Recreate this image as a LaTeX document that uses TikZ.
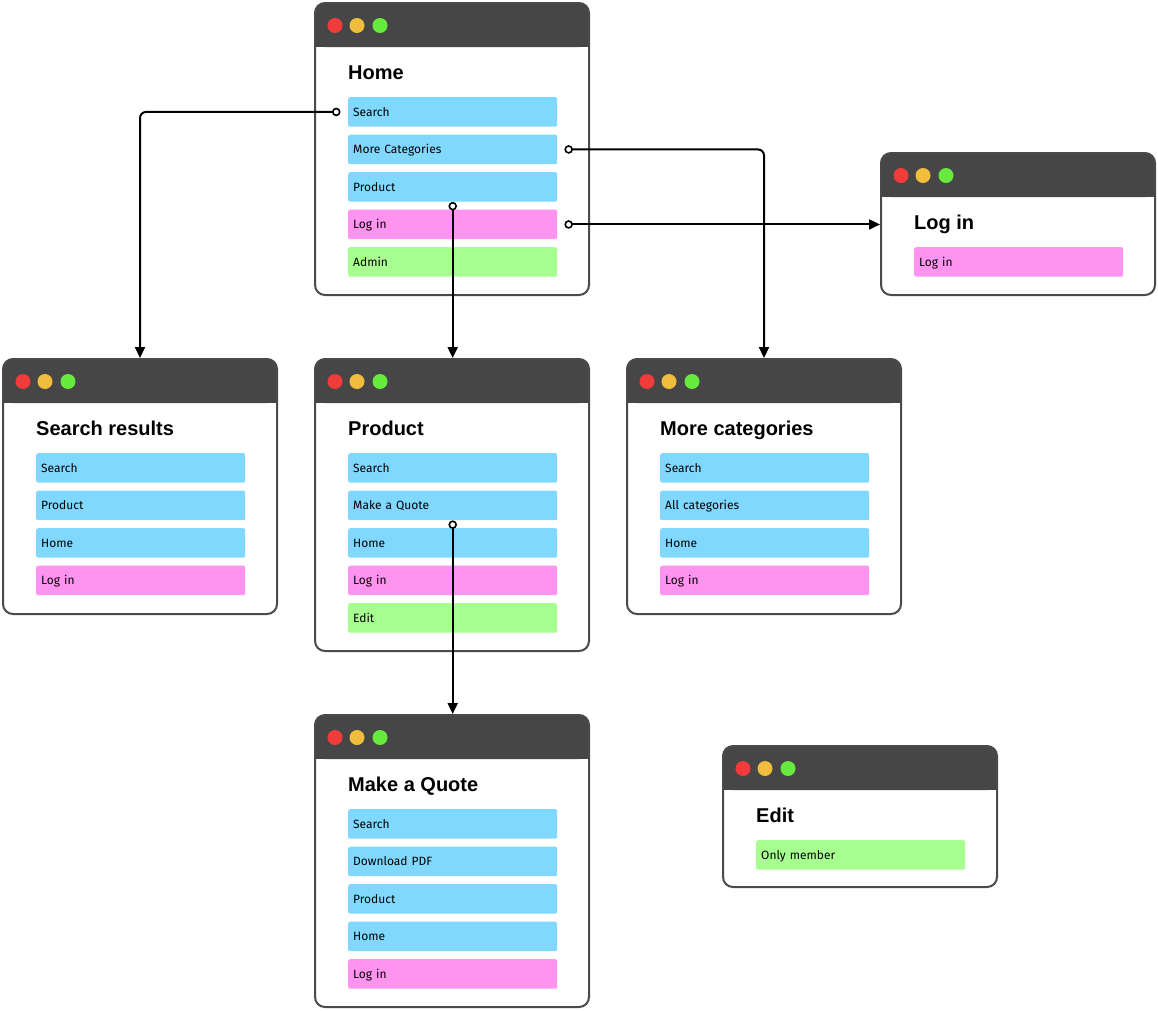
\documentclass[tikz,border=0pt]{standalone}
\usepackage{fontspec}
\setmainfont{Fira Sans}
\newfontfamily\headfont{Liberation Sans}
\usetikzlibrary{arrows.meta}

\definecolor{barcol}{HTML}{464646}
\definecolor{framecol}{HTML}{4A4A4A}
\definecolor{dotred}{HTML}{F23C3C}
\definecolor{dotyellow}{HTML}{F0BE3C}
\definecolor{dotgreen}{HTML}{66EA3E}
\definecolor{btnblue}{HTML}{80D8FF}
\definecolor{btnpink}{HTML}{FF94F0}
\definecolor{btngreen}{HTML}{A6FF8F}

% window chrome: name, x, y, inner height, title
\newcommand{\browser}[5]{%
  \fill[barcol, rounded corners=9pt] (#2+1,#3+1) rectangle (#2+275,#3+45);
  \fill[barcol] (#2+1,#3+20) rectangle (#2+275,#3+45);
  \fill[dotred]    (#2+21,#3+23.5) circle (7.5pt);
  \fill[dotyellow] (#2+43,#3+23.5) circle (7.5pt);
  \fill[dotgreen]  (#2+66,#3+23.5) circle (7.5pt);
  \node[frame, minimum height=#4pt] (#1) at (#2,#3) {};
  \node[wtitle] (#1t) at (#2+34,#3+77.5) {#5};
}

\begin{document}
\begin{tikzpicture}[x = 1pt, y = -1pt,
  frame/.style = {draw = framecol, line width = 2pt, rounded corners = 10pt,
                  minimum width = 274pt, anchor = north west, inner sep = 0pt},
  wtitle/.style = {anchor = base west, inner sep = 0pt,
                   font = \headfont\bfseries\fontsize{20}{24}\selectfont},
  btn/.style = {anchor = north west, minimum width = 209pt, minimum height = 29.5pt,
                text width = 199pt, align = left, inner xsep = 5pt, inner ysep = 0pt,
                rounded corners = 2pt, text height = 8.5pt, text depth = 0pt,
                font = \fontsize{12}{14}\selectfont},
  link/.style = {line width = 2pt, rounded corners = 6pt,
                 {Circle[open, length = 8.5pt, width = 8.5pt, line width = 1.6pt]}-{Triangle[length = 11pt, width = 10pt]}}]

\useasboundingbox (0, 0) rectangle (1158, 1010);

% windows
\browser{whome}{314}{2}{292}{Home}
\browser{wlogin}{880}{152}{142}{Log in}
\browser{wresults}{2}{358}{255}{Search results}
\browser{wproduct}{314}{358}{292}{Product}
\browser{wmore}{626}{358}{255}{More categories}
\browser{wquote}{314}{714}{292}{Make a Quote}
\browser{wedit}{722}{745}{141}{Edit}

% Home
\node[btn, fill = btnblue] at (348, 97) (hsearch)     {Search};
\node[btn, fill = btnblue] at (348, 134.5) (hmore)    {More Categories};
\node[btn, fill = btnblue] at (348, 172) (hproduct)   {Product};
\node[btn, fill = btnpink] at (348, 209.5) (hlogin)   {Log in};
\node[btn, fill = btngreen] at (348, 247) (hadmin)    {Admin};

% Log in
\node[btn, fill = btnpink] at (914, 247) (llogin)     {Log in};

% Search results
\node[btn, fill = btnblue] at (36, 453) (rsearch)     {Search};
\node[btn, fill = btnblue] at (36, 490.5) (rproduct)  {Product};
\node[btn, fill = btnblue] at (36, 528) (rhome)       {Home};
\node[btn, fill = btnpink] at (36, 565.5) (rlogin)    {Log in};

% Product
\node[btn, fill = btnblue] at (348, 453) (psearch)    {Search};
\node[btn, fill = btnblue] at (348, 490.5) (pquote)   {Make a Quote};
\node[btn, fill = btnblue] at (348, 528) (phome)      {Home};
\node[btn, fill = btnpink] at (348, 565.5) (plogin)   {Log in};
\node[btn, fill = btngreen] at (348, 603) (pedit)     {Edit};

% More categories
\node[btn, fill = btnblue] at (660, 453) (msearch)    {Search};
\node[btn, fill = btnblue] at (660, 490.5) (mall)     {All categories};
\node[btn, fill = btnblue] at (660, 528) (mhome)      {Home};
\node[btn, fill = btnpink] at (660, 565.5) (mlogin)   {Log in};

% Make a Quote
\node[btn, fill = btnblue] at (348, 809) (qsearch)    {Search};
\node[btn, fill = btnblue] at (348, 846.5) (qpdf)     {Download PDF};
\node[btn, fill = btnblue] at (348, 884) (qproduct)   {Product};
\node[btn, fill = btnblue] at (348, 921.5) (qhome)    {Home};
\node[btn, fill = btnpink] at (348, 959) (qlogin)     {Log in};

% Edit
\node[btn, fill = btngreen] at (756, 840) (eonly)     {Only member};

% links
\draw[link] ([xshift = -7.5pt]hsearch.west) -| (wresults.north);
\draw[link] ([xshift = 7pt]hmore.east) -| (wmore.north);
\draw[link] (hproduct.south) -- (hproduct.south |- wproduct.north);
\draw[link] ([xshift = 7pt]hlogin.east) -- (hlogin.east -| wlogin.west);
\draw[link] (pquote.south) -- (pquote.south |- wquote.north);

\end{tikzpicture}
\end{document}
